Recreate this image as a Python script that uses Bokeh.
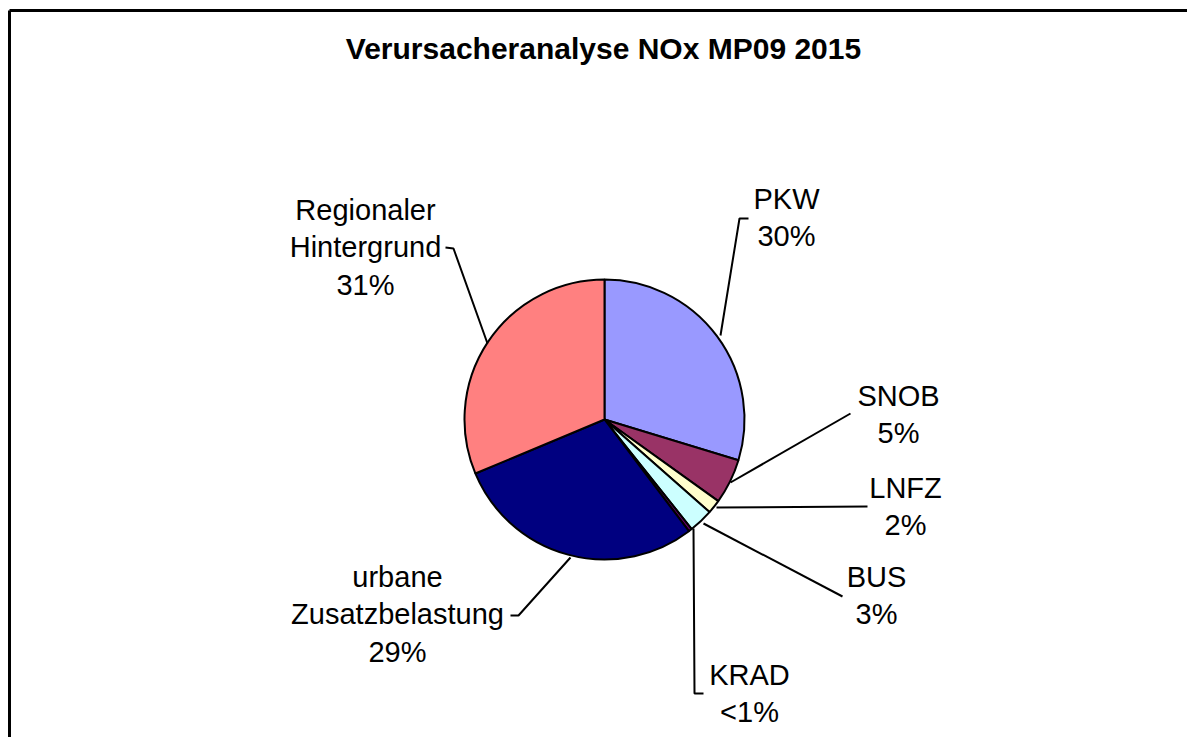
import math
from bokeh.plotting import figure
from bokeh.models import Range1d, ColumnDataSource
from bokeh.core.properties import value
from bokeh.embed import file_html
from bokeh.resources import INLINE

# ---- data ----
title_text = "Verursacheranalyse NOx MP09 2015"
categories = ["PKW", "SNOB", "LNFZ", "BUS", "KRAD", "urbane\nZusatzbelastung", "Regionaler\nHintergrund"]
shares = [29.7, 5.2, 1.6, 2.8, 0.4, 29.0, 31.3]
pct_labels = ["30%", "5%", "2%", "3%", "<1%", "29%", "31%"]
colors = ["#9999FF", "#993366", "#FFFFCC", "#CCFFFF", "#660066", "#000080", "#FF8080"]

# ---- layout (screen pixel coordinates) ----
W, H = 1187, 737
TOP = H  # data y = TOP - screen y
def sy(y):
    return TOP - y

cx, cy, r = 604, 419, 140
label_pos = [(786, 217), (898, 414), (905, 506), (876, 595), (749, 693), (397, 614), (365, 247)]
leaders = [
    [(720, 335), (739, 218), (748, 218)],
    [(730, 482), (850, 413)],
    [(716, 507), (867, 506)],
    [(703, 523), (842, 596)],
    [(693, 528), (694, 693), (703, 693)],
    [(570, 557), (518, 615), (510, 615)],
    [(487, 343), (453, 248), (445, 247)],
]

p = figure(width=W, height=H, x_range=Range1d(0, W), y_range=Range1d(0, H),
           output_backend="svg", toolbar_location=None, min_border=0)
p.axis.visible = False
p.grid.visible = False
p.outline_line_color = None
p.background_fill_color = "white"
p.border_fill_color = "white"

# frame (chart area border, cropped on right/bottom)
p.segment(x0=[9, 9], y0=[sy(10), sy(10)], x1=[9, 1200], y1=[sy(760), sy(10)],
          line_color="black", line_width=3)

# pie wedges, clockwise from 12 o'clock
total = sum(shares)
cum = 0.0
starts, ends = [], []
for s in shares:
    a0 = cum / total
    cum += s
    a1 = cum / total
    ends.append(math.pi / 2 - 2 * math.pi * a0)
    starts.append(math.pi / 2 - 2 * math.pi * a1)
src = ColumnDataSource(dict(start=starts, end=ends, color=colors,
                            x=[cx] * len(shares), y=[sy(cy)] * len(shares)))
p.wedge(x="x", y="y", radius=r, start_angle="start", end_angle="end",
        fill_color="color", line_color="black", line_width=2, source=src)

# leader lines
p.multi_line(xs=[[pt[0] for pt in L] for L in leaders],
             ys=[[sy(pt[1]) for pt in L] for L in leaders],
             line_color="black", line_width=2)

# labels
texts = [c + "\n" + pl for c, pl in zip(categories, pct_labels)]
p.text(x=[lp[0] for lp in label_pos], y=[sy(lp[1]) for lp in label_pos], text=texts,
       text_font=value("Liberation Sans"), text_font_size="29px", text_color="black",
       text_align="center", text_baseline="middle", text_line_height=1.17)

# title
p.text(x=[603], y=[sy(48)], text=[title_text], text_font=value("Liberation Sans"),
       text_font_size="30px", text_font_style="bold", text_color="black",
       text_align="center", text_baseline="middle")

open("out.html", "w").write(file_html(p, INLINE))
